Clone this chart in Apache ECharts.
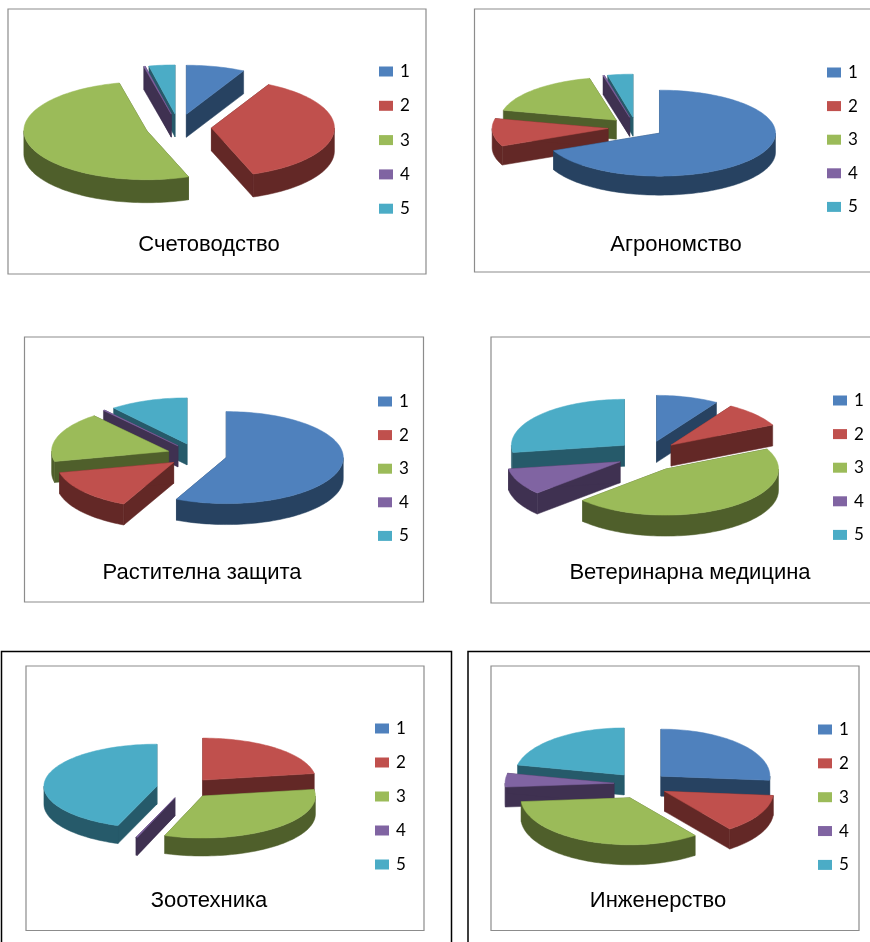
<!DOCTYPE html>
<html>
<head>
<meta charset="utf-8">
<style>html,body{margin:0;padding:0;background:#fff}#c{width:870px;height:942px}</style>
<script src="https://cdn.jsdelivr.net/npm/echarts@6/dist/echarts.min.js"></script>
</head>
<body>
<div id="c"></div>
<script>
const categories = ['1', '2', '3', '4', '5'];
const titles = ['Счетоводство', 'Агрономство', 'Растителна защита', 'Ветеринарна медицина', 'Зоотехника', 'Инженерство'];
const accounting = [7.7, 36.8, 51.9, 0.2, 3.4];
const agronomy = [68.3, 10.4, 17.6, 0.2, 3.5];
const plantProtection = [57, 14.4, 17.6, 0.2, 10.8];
const veterinary = [8.9, 8.9, 45.3, 9.4, 27.5];
const zootechnics = [0, 22.5, 32.9, 0.2, 44.4];
const engineering = [26.4, 13.4, 33.9, 4.7, 21.6];
const values = [accounting, agronomy, plantProtection, veterinary, zootechnics, engineering];

const topColors = ['#4F81BD', '#C0504D', '#9BBB59', '#8064A2', '#4BACC6'];
const wallColors = ['#274261', '#632826', '#4F5F2B', '#3F3151', '#265A6A'];
const FONT_LEGEND = 'Lato, "Open Sans", sans-serif';
const FONT_TITLE = '"Liberation Sans", Arial, sans-serif';

// pie geometry: centre, ellipse radii, wall depth, explosion distance,
// extra explosion towards the viewer
const pies = [
  {cx: 178.5, cy: 127, rx: 123, ry: 49, d: 23, e: 33, ef: 1},
  {cx: 636, cy: 127.5, rx: 116, ry: 43, d: 19, e: 28, ef: 1},
  {cx: 197, cy: 455, rx: 117, ry: 46, d: 21, e: 30, ef: 1},
  {cx: 648, cy: 453.5, rx: 113, ry: 46, d: 21, e: 31, ef: 1.5},
  {cx: 184.5, cy: 788, rx: 113, ry: 42, d: 18, e: 28, ef: 1},
  {cx: 641, cy: 784, rx: 109, ry: 47, d: 20, e: 27, ef: 1.3}
];
const legends = [
  {x: 379, y: 63, gap: 17.3}, {x: 827, y: 64, gap: 16.6}, {x: 378, y: 393, gap: 16.6},
  {x: 833, y: 392, gap: 16.6}, {x: 375, y: 720, gap: 17}, {x: 818, y: 721, gap: 16.85}
];
const titlePos = [[209, 230.5], [676, 230.5], [202, 558.5], [690, 558.5], [209, 886.5], [658, 886.5]];
const frames = [
  {x: 8, y: 9, w: 418, h: 265, c: '#8c8c8c'},
  {x: 474.5, y: 9, w: 420, h: 263, c: '#8c8c8c'},
  {x: 24.5, y: 337, w: 399, h: 265, c: '#8c8c8c'},
  {x: 491, y: 337, w: 420, h: 266, c: '#8c8c8c'},
  {x: 1.5, y: 651.5, w: 450, h: 320, c: '#000000'},
  {x: 26, y: 666, w: 398, h: 264.5, c: '#8c8c8c'},
  {x: 468, y: 651.5, w: 440, h: 320, c: '#000000'},
  {x: 491, y: 666, w: 368, h: 264.5, c: '#8c8c8c'}
];

function sliceAngles(vals) {
  const total = vals.reduce((a, b) => a + b, 0);
  let acc = 0;
  return vals.map(v => {
    const a0 = acc / total * 2 * Math.PI;
    acc += v;
    return [a0, acc / total * 2 * Math.PI];
  });
}

function makeRender(pieIdx, sliceIdx) {
  return function (params, api) {
    const p = pies[pieIdx];
    const [a0, a1] = sliceAngles(values[pieIdx])[sliceIdx];
    if (api.value(0) <= 0) return {type: 'group', children: []};
    const mid = (a0 + a1) / 2;
    const c = Math.cos(mid);
    const ax = p.cx + p.e * Math.sin(mid);
    const ay = p.cy - p.e * (p.ry / p.rx) * c * (c < 0 ? p.ef : 1);
    const pt = (a, dy) => [ax + p.rx * Math.sin(a), ay - p.ry * Math.cos(a) + (dy || 0)];
    const arc = (s, t, dy) => {
      const n = Math.max(2, Math.ceil((t - s) / 0.03));
      const out = [];
      for (let i = 0; i <= n; i++) out.push(pt(s + (t - s) * i / n, dy));
      return out;
    };
    const top = topColors[sliceIdx], wall = wallColors[sliceIdx];
    const poly = (points, fill) => ({
      type: 'polygon', shape: {points}, style: {fill, stroke: fill, lineWidth: 0.5}, silent: true
    });
    const children = [];
    // radial cut faces
    [a0, a1].forEach(a => {
      children.push(poly([[ax, ay], pt(a), pt(a, p.d), [ax, ay + p.d]], wall));
    });
    // curved outer wall: only the front half of the rim faces the viewer
    const s = Math.max(a0, Math.PI / 2), t = Math.min(a1, 3 * Math.PI / 2);
    if (t > s) {
      children.push(poly(arc(s, t, 0).concat(arc(s, t, p.d).reverse()), wall));
    }
    // top face
    children.push(poly([[ax, ay]].concat(arc(a0, a1, 0)), top));
    return {type: 'group', children};
  };
}

const series = [];
values.forEach((vals, pi) => {
  const angles = sliceAngles(vals);
  const order = vals.map((v, i) => i).sort((a, b) =>
    Math.cos((angles[b][0] + angles[b][1]) / 2) - Math.cos((angles[a][0] + angles[a][1]) / 2));
  order.forEach(si => {
    series.push({
      type: 'custom',
      name: categories[si],
      coordinateSystem: 'none',
      renderItem: makeRender(pi, si),
      itemStyle: {color: topColors[si]},
      silent: true,
      data: [[vals[si]]]
    });
  });
});

const option = {
  animation: false,
  backgroundColor: '#fff',
  color: topColors,
  title: titles.map((text, i) => ({
    text,
    left: titlePos[i][0],
    top: titlePos[i][1],
    textAlign: 'center',
    padding: 0,
    textStyle: {fontFamily: FONT_TITLE, fontSize: 22, fontWeight: 'normal', color: '#000', lineHeight: 28}
  })),
  legend: legends.map(l => ({
    data: categories,
    orient: 'vertical',
    left: l.x,
    top: l.y,
    padding: 0,
    itemWidth: 14,
    itemHeight: 10,
    itemGap: l.gap,
    icon: 'rect',
    selectedMode: false,
    textStyle: {fontFamily: FONT_LEGEND, fontSize: 17, color: '#000', lineHeight: 16, padding: [0, 0, 0, 2]}
  })),
  graphic: frames.map(f => ({
    type: 'rect',
    silent: true,
    z: -1,
    shape: {x: f.x, y: f.y, width: f.w, height: f.h},
    style: {fill: 'none', stroke: f.c, lineWidth: f.c === '#000000' ? 1.5 : 1.2}
  })),
  series
};
echarts.init(document.getElementById('c')).setOption(option);
</script>
</body>
</html>
